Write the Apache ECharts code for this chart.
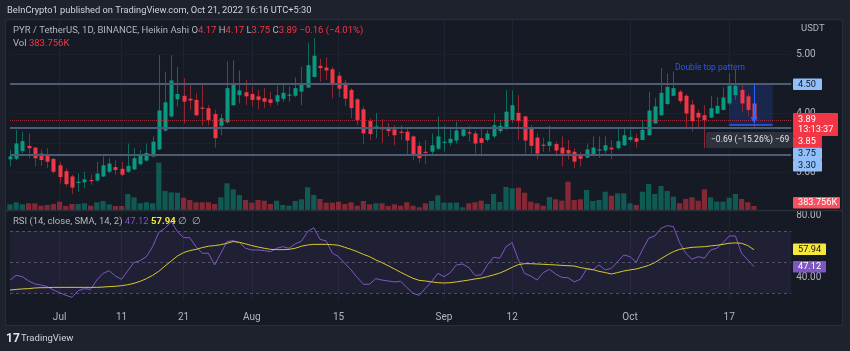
<!DOCTYPE html>
<html>
<head>
<meta charset="utf-8">
<script src="https://cdn.jsdelivr.net/npm/echarts@6/dist/echarts.min.js"></script>
<style>
html, body { margin: 0; padding: 0; background: #1e222d; }
#chart { width: 850px; height: 351px; }
</style>
</head>
<body>
<div id="chart"></div>
<script>
// daily Heikin Ashi candles, 2022-06-23 .. 2022-10-21
var startDate = '2022-06-23';
var padDays = 6;

var opens = [3.22,3.23,3.36,3.45,3.42,3.32,3.28,3.23,3.12,3.02,
	2.93,2.83,2.83,2.87,2.86,2.93,3.01,3.09,3.06,3.01,
	3.05,3.14,3.20,3.27,3.39,3.71,3.95,4.24,4.30,4.25,
	4.23,4.10,4.09,3.99,3.79,3.85,4.14,4.31,4.36,4.33,
	4.29,4.26,4.24,4.20,4.25,4.30,4.30,4.37,4.44,4.62,
	4.81,4.78,4.75,4.64,4.52,4.40,4.24,4.07,3.87,3.74,
	3.77,3.76,3.73,3.69,3.69,3.61,3.45,3.35,3.35,3.40,
	3.50,3.50,3.54,3.62,3.68,3.66,3.58,3.55,3.61,3.70,
	3.75,3.89,4.01,3.95,3.74,3.59,3.47,3.45,3.48,3.42,
	3.38,3.35,3.28,3.25,3.31,3.37,3.37,3.42,3.41,3.46,
	3.55,3.58,3.55,3.63,3.83,3.97,4.16,4.30,4.37,4.30,
	4.15,4.01,3.97,3.93,4.00,4.06,4.17,4.31,4.40,4.29,
	4.17];
var closes = [3.27,3.49,3.53,3.41,3.24,3.21,3.18,3.01,2.92,2.80,
	2.74,2.84,2.88,2.85,2.98,3.12,3.15,3.04,2.96,3.11,
	3.24,3.28,3.33,3.52,4.05,4.19,4.56,4.33,4.20,4.22,
	3.97,4.08,3.89,3.58,3.92,4.43,4.50,4.39,4.29,4.23,
	4.23,4.20,4.18,4.31,4.35,4.32,4.43,4.50,4.82,4.98,
	4.77,4.73,4.50,4.42,4.25,4.09,3.89,3.66,3.65,3.78,
	3.73,3.70,3.63,3.67,3.54,3.31,3.24,3.34,3.46,3.61,
	3.52,3.57,3.71,3.73,3.66,3.49,3.50,3.66,3.80,3.79,
	4.03,4.14,3.88,3.54,3.45,3.32,3.45,3.52,3.37,3.32,
	3.32,3.18,3.23,3.39,3.42,3.39,3.46,3.39,3.53,3.63,
	3.60,3.52,3.72,4.05,4.12,4.35,4.45,4.43,4.21,4.00,
	3.87,3.93,3.89,4.09,4.13,4.27,4.47,4.47,4.17,4.06,
	3.89];
var highs = [3.38,3.72,3.69,3.66,3.43,3.39,3.41,3.24,3.18,3.07,
	2.96,2.98,3.01,2.96,3.18,3.27,3.24,3.21,3.18,3.49,
	3.41,3.38,3.49,3.61,4.99,4.71,4.99,4.79,4.60,4.51,
	4.34,4.51,4.14,4.06,3.99,4.88,4.90,4.73,4.57,4.46,
	4.40,4.43,4.37,4.47,4.48,4.46,4.61,4.79,5.20,5.28,
	4.93,4.95,4.79,4.71,4.57,4.43,4.26,4.12,3.92,4.01,
	3.90,3.84,3.80,3.80,3.75,3.63,3.52,3.55,3.66,3.95,
	3.79,3.73,3.86,3.76,3.79,3.71,3.75,3.72,4.00,3.89,
	4.40,4.39,4.31,3.96,3.80,3.66,3.59,3.79,3.52,3.61,
	3.55,3.41,3.35,3.49,3.61,3.61,3.61,3.55,3.73,3.76,
	3.73,3.65,3.89,4.37,4.26,4.77,4.68,4.71,4.40,4.33,
	4.23,4.06,4.14,4.30,4.28,4.44,4.68,4.74,4.48,4.34,
	4.17];
var lows = [3.10,3.21,3.32,3.24,3.10,3.11,3.07,2.98,2.81,2.76,
	2.63,2.67,2.73,2.79,2.84,2.92,2.98,2.96,2.93,2.99,
	3.04,3.11,3.18,3.25,3.38,3.69,3.93,4.12,3.83,4.06,
	3.95,3.79,3.80,3.42,3.63,3.83,4.13,4.17,4.14,4.12,
	4.07,4.09,4.12,4.14,4.20,4.20,4.28,4.14,4.43,4.61,
	4.54,4.57,4.26,4.28,4.13,3.92,3.80,3.48,3.55,3.58,
	3.50,3.61,3.46,3.55,3.31,3.21,3.16,3.14,3.28,3.38,
	3.35,3.45,3.49,3.60,3.52,3.32,3.27,3.52,3.58,3.66,
	3.72,3.84,3.55,3.32,3.32,3.22,3.35,3.35,3.27,3.10,
	3.22,3.07,3.10,3.24,3.27,3.25,3.32,3.22,3.39,3.45,
	3.52,3.42,3.54,3.62,3.82,3.96,4.14,4.30,4.17,3.76,
	3.69,3.75,3.41,3.92,3.99,4.05,4.14,4.23,4.03,3.95,
	3.75];
// volume in thousands
var volumes = [547,739,547,643,643,413,480,576,797,384,
	576,576,643,413,739,864,547,384,384,1536,
	1219,643,739,643,4541,1824,1699,1661,1181,960,
	739,739,739,576,1219,2563,1987,1440,960,701,
	960,893,576,893,480,413,864,1027,2179,1440,
	1056,701,701,797,576,739,413,864,547,643,
	643,384,547,413,739,413,259,643,864,1411,
	701,701,701,259,643,739,893,576,1536,768,
	2208,2083,2141,1661,797,643,413,1248,1027,893,
	2717,960,1027,1920,864,960,1757,1373,1603,1603,
	643,480,1757,2496,1536,2304,1824,1277,643,1056,
	1219,893,1987,1219,797,797,1181,1536,1056,739,
	383.756];
var rsi = [38.5,41.5,40.7,37.9,36.0,35.3,34.3,32.1,30.4,28.7,
	27.4,31.7,33.0,32.5,38.5,42.8,44.5,41.1,39.0,44.5,
	49.7,51.0,53.5,59.9,69.1,71.7,76.0,69.6,65.7,65.7,
	59.9,55.7,55.7,48.2,55.7,63.2,63.8,62.5,58.9,57.8,
	57.8,57.4,56.7,58.9,59.9,58.9,61.7,63.4,69.6,72.1,
	64.6,63.6,55.7,53.5,49.2,45.0,40.2,35.8,35.8,39.4,
	38.5,37.9,37.3,37.7,33.8,30.0,28.7,33.2,37.5,42.8,
	40.7,43.2,48.2,48.8,46.5,41.5,41.8,48.2,53.1,52.5,
	59.9,62.5,51.4,42.8,41.1,38.5,43.2,45.4,42.4,40.2,
	40.0,37.3,39.0,45.6,45.0,48.2,45.0,46.0,50.3,54.6,
	53.5,49.9,57.8,65.3,66.8,71.7,73.4,72.8,62.5,55.7,
	51.8,53.5,52.5,57.8,58.9,62.5,66.8,66.8,55.7,51.4,
	47.12];
var rsiMa = [32.1,32.5,32.8,33.0,33.4,33.6,33.6,33.8,33.8,33.8,
	33.8,33.8,33.8,33.8,33.8,34.0,34.3,34.5,34.9,35.5,
	36.4,37.7,39.4,41.5,44.1,47.5,50.7,53.9,56.1,57.4,
	58.2,59.3,60.2,60.6,61.2,62.1,63.2,62.7,61.7,60.6,
	59.7,58.9,58.2,58.0,58.0,58.2,58.9,60.2,61.0,61.4,
	61.4,61.4,61.2,60.8,59.5,58.2,56.7,55.0,53.5,51.4,
	49.7,47.7,45.6,43.5,41.5,39.6,38.3,37.9,37.3,36.8,
	36.6,36.8,37.3,37.9,38.5,39.2,39.8,40.7,41.8,43.0,
	44.7,46.7,48.4,49.0,49.0,48.8,48.6,48.4,48.2,47.9,
	47.7,47.5,46.5,45.8,45.2,44.1,43.3,42.4,43.3,44.3,
	45.0,45.6,46.7,47.9,49.7,52.2,54.6,56.7,58.2,58.9,
	59.5,59.7,59.9,60.4,60.8,61.4,62.1,62.3,62.1,60.6,
	57.94];

var tickLabels = {
	'2022-07-01': 'Jul', '2022-07-11': '11', '2022-07-21': '21',
	'2022-08-01': 'Aug', '2022-08-15': '15', '2022-09-01': 'Sep',
	'2022-09-12': '12', '2022-10-01': 'Oct', '2022-10-17': '17'
};
var priceTicks = [3, 3.5, 4, 4.5, 5];
var rsiTicks = [40, 80];
var levels = [4.50, 3.75, 3.30];
var lastPrice = 3.89;

var upColor = '#089981', downColor = '#f23645';
var upWick = '#0b6b5c', downWick = '#8e2631';
var font = 'Roboto, "Noto Sans", sans-serif';

var chart;

window.onload = function() {
	chart = echarts.init(document.getElementById('chart'), null, {renderer: 'canvas'});
	chart.setOption(buildOption());
};

function makeDates() {
	var out = [];
	var d = new Date(startDate + 'T00:00:00Z');
	for (var i = 0; i < opens.length + padDays; i++) {
		out.push(d.toISOString().slice(0, 10));
		d.setUTCDate(d.getUTCDate() + 1);
	}
	return out;
}

function renderCandle(params, api) {
	var i = api.value(0);
	var o = api.coord([i, api.value(1)]);
	var c = api.coord([i, api.value(2)]);
	var l = api.coord([i, api.value(3)]);
	var h = api.coord([i, api.value(4)]);
	var w = Math.round(api.size([1, 0])[0] * 0.66);
	var up = api.value(2) >= api.value(1);
	var x = Math.round(o[0]);
	var top = Math.min(o[1], c[1]);
	var bh = Math.max(Math.abs(o[1] - c[1]), 1.2);
	return {
		type: 'group',
		children: [{
			type: 'line',
			shape: {x1: x + 0.5, y1: h[1], x2: x + 0.5, y2: l[1]},
			style: {stroke: up ? upWick : downWick, lineWidth: 1}
		}, {
			type: 'rect',
			shape: {x: x + 0.5 - w / 2, y: top, width: w, height: bh},
			style: {fill: up ? upColor : downColor}
		}]
	};
}

function tag(x, y, w, h, bg, text, color) {
	return {
		type: 'group', x: x, y: y, z: 100,
		children: [{
			type: 'rect', z: 100,
			shape: {x: 0, y: 0, width: w, height: h, r: 1},
			style: {fill: bg}
		}, {
			type: 'text', z: 101, x: 5, y: h / 2,
			style: {text: text, fill: color, font: '9.2px ' + font, verticalAlign: 'middle'}
		}]
	};
}

function label(x, y, text, fill, size, rich) {
	var st = {text: text, fill: fill, font: size + 'px ' + font, verticalAlign: 'middle'};
	if (rich) st.rich = rich;
	return {type: 'text', x: x, y: y, z: 100, style: st};
}

function buildOption() {
	var cats = makeDates();
	var candles = [], vols = [];
	for (var i = 0; i < opens.length; i++) {
		candles.push([i, opens[i], closes[i], lows[i], highs[i]]);
		vols.push({
			value: volumes[i],
			itemStyle: {color: closes[i] >= opens[i] ? 'rgba(8,153,129,0.5)' : 'rgba(242,54,69,0.5)'}
		});
	}
	var isTick = function(idx, val) { return tickLabels[val] !== undefined; };
	var lf = '9.5px ' + font;
	var txtStyles = {
		g: {fill: '#b2b5be', font: lf},
		r: {fill: '#f23645', font: lf},
		p: {fill: '#7e57c2', font: lf},
		y: {fill: '#f5e83b', font: 'bold ' + lf}
	};

	var option = {
		backgroundColor: '#1e222d',
		animation: false,
		grid: [
			{left: 10, top: 20, width: 781.2, height: 190},
			{left: 10, top: 211, width: 781.2, height: 89}
		],
		xAxis: [{
			type: 'category', gridIndex: 0, data: cats, boundaryGap: false,
			axisLine: {show: false}, axisTick: {show: false}, axisLabel: {show: false},
			splitLine: {show: true, interval: isTick, lineStyle: {color: '#1f2331', width: 1}}
		}, {
			type: 'category', gridIndex: 1, data: cats, boundaryGap: false,
			axisLine: {show: false}, axisTick: {show: false},
			axisLabel: {
				interval: isTick, color: '#b2b5be', fontSize: 10, fontFamily: font, margin: 12,
				formatter: function(v) { return tickLabels[v]; }
			},
			splitLine: {show: true, interval: isTick, lineStyle: {color: '#1f2331', width: 1}}
		}],
		yAxis: [{
			type: 'value', gridIndex: 0, position: 'right', min: 2.3608, max: 5.5866,
			axisLine: {show: false},
			axisTick: {show: false, customValues: priceTicks},
			axisLabel: {
				customValues: priceTicks, color: '#b2b5be', fontSize: 10, fontFamily: font, margin: 5,
				formatter: function(v) { return v.toFixed(2); }
			},
			splitLine: {show: true, lineStyle: {color: '#1c202c'}}
		}, {
			type: 'value', gridIndex: 0, min: 0, max: 18240, show: false
		}, {
			type: 'value', gridIndex: 1, position: 'right', min: 25.7, max: 82.8,
			axisLine: {show: false},
			axisTick: {show: false, customValues: rsiTicks},
			axisLabel: {
				customValues: rsiTicks, color: '#b2b5be', fontSize: 10, fontFamily: font, margin: 5,
				formatter: function(v) { return v.toFixed(2); }
			},
			splitLine: {show: false}
		}],
		series: [{
			name: 'Vol', type: 'bar', xAxisIndex: 0, yAxisIndex: 1,
			data: vols, barCategoryGap: '16%', z: 1
		}, {
			name: 'PYR', type: 'custom', xAxisIndex: 0, yAxisIndex: 0,
			renderItem: renderCandle,
			encode: {x: 0, y: [1, 2, 3, 4]},
			data: candles, z: 3,
			markLine: {
				silent: true, symbol: ['none', 'none'], label: {show: false},
				data: levels.map(function(v) {
					return {yAxis: v, lineStyle: {color: '#4e5b74', width: 2, type: 'solid'}};
				}).concat([
					{yAxis: lastPrice, lineStyle: {color: '#f23645', width: 1, type: 'dotted', opacity: 0.6}},
					[{coord: [cats[116], 3.81], lineStyle: {color: '#2962ff', width: 1.5, type: 'solid'}},
					 {coord: [cats[123], 3.81]}],
					[{coord: [cats[120], 4.50], lineStyle: {color: '#2962ff', width: 1, type: 'solid'}},
					 {coord: [cats[120], 3.84], symbol: 'arrow', symbolSize: 6}]
				])
			},
			markArea: {
				silent: true,
				itemStyle: {color: 'rgba(41,98,255,0.18)'},
				data: [[{xAxis: cats[116], yAxis: 4.50}, {xAxis: cats[123], yAxis: 3.81}]]
			}
		}, {
			name: 'RSI', type: 'line', xAxisIndex: 1, yAxisIndex: 2,
			data: rsi, showSymbol: false, lineStyle: {color: '#7e57c2', width: 1},
			markArea: {
				silent: true,
				itemStyle: {color: 'rgba(126,87,194,0.1)'},
				data: [[{yAxis: 70}, {yAxis: 30}]]
			},
			markLine: {
				silent: true, symbol: ['none', 'none'], label: {show: false},
				lineStyle: {color: 'rgba(120,123,134,0.55)', width: 1, type: [3, 3]},
				data: [{yAxis: 70}, {yAxis: 50}, {yAxis: 30}]
			}
		}, {
			name: 'RSI-based MA', type: 'line', xAxisIndex: 1, yAxisIndex: 2,
			data: rsiMa, showSymbol: false, lineStyle: {color: '#d8c92c', width: 1}
		}],
		graphic: [
			{type: 'rect', z: -10, shape: {x: 5.5, y: 19.5, width: 837, height: 306},
				style: {fill: '#161a25', stroke: '#2a2e39', lineWidth: 1}},
			{type: 'line', z: 5, shape: {x1: 6, y1: 210.5, x2: 842, y2: 210.5},
				style: {stroke: '#2a2e39', lineWidth: 1.5}},
			label(7, 11, 'BeInCrypto1 published on TradingView.com, Oct 21, 2022 16:16 UTC+5:30', '#d1d4dc', 9.3),
			label(13, 31, '{g|PYR / TetherUS, 1D, BINANCE, Heikin Ashi} {g|O}{r|4.17} {g|H}{r|4.17} {g|L}{r|3.75} {g|C}{r|3.89} {r|\u22120.16 (\u22124.01%)}',
				'#d1d4dc', 9.5, txtStyles),
			label(13, 44, '{g|Vol} {r|383.756K}', '#b2b5be', 9.5, txtStyles),
			label(13, 221.5, '{g|RSI (14, close, SMA, 14, 2)} {p|47.12} {y|57.94} {g|\u2205  \u2205}', '#b2b5be', 9.5, txtStyles),
			label(801, 29, 'USDT', '#b2b5be', 9.5),
			label(675, 68, 'Double top pattern', '#3456e0', 8.5),
			{type: 'group', x: 706, y: 132, z: 100, children: [
				{type: 'rect', z: 100, shape: {x: 0, y: 0, width: 87, height: 16, r: 2}, style: {fill: '#2e323d'}},
				{type: 'text', z: 101, x: 5, y: 8,
					style: {text: '\u22120.69 (\u221215.26%) \u221269', fill: '#e0e3eb', font: '8.5px ' + font, verticalAlign: 'middle'}}
			]},
			tag(793, 78.5, 29, 11.5, '#90bff9', '4.50', '#131722'),
			{type: 'group', x: 793, y: 113, z: 100, children: [
				{type: 'rect', z: 100, shape: {x: 0, y: 0, width: 45, height: 23, r: 1}, style: {fill: '#f23645'}},
				{type: 'text', z: 101, x: 5, y: 6.5, style: {text: '3.89', fill: '#ffffff', font: '9.2px ' + font, verticalAlign: 'middle'}},
				{type: 'text', z: 101, x: 5, y: 17, style: {text: '13:13:37', fill: '#ffffff', font: '9.2px ' + font, verticalAlign: 'middle'}}
			]},
			tag(793, 136, 29, 11.5, '#f23645', '3.85', '#ffffff'),
			tag(793, 147.5, 29, 12.5, '#90bff9', '3.75', '#131722'),
			tag(793, 160, 29, 11.5, '#90bff9', '3.30', '#131722'),
			tag(793, 197, 47, 11.5, '#f7525f', '383.756K', '#ffffff'),
			tag(793, 243.5, 33, 11.5, '#f5e83b', '57.94', '#131722'),
			tag(793, 261, 33, 11.5, '#7e57c2', '47.12', '#ffffff'),
			{type: 'text', x: 6, y: 338.5, z: 100,
				style: {text: '17', fill: '#e0e3eb', font: 'bold 12px ' + font, verticalAlign: 'middle'}},
			label(21, 338.5, 'TradingView', '#d1d4dc', 9.5)
		]
	};
	return option;
}
</script>
</body>
</html>
